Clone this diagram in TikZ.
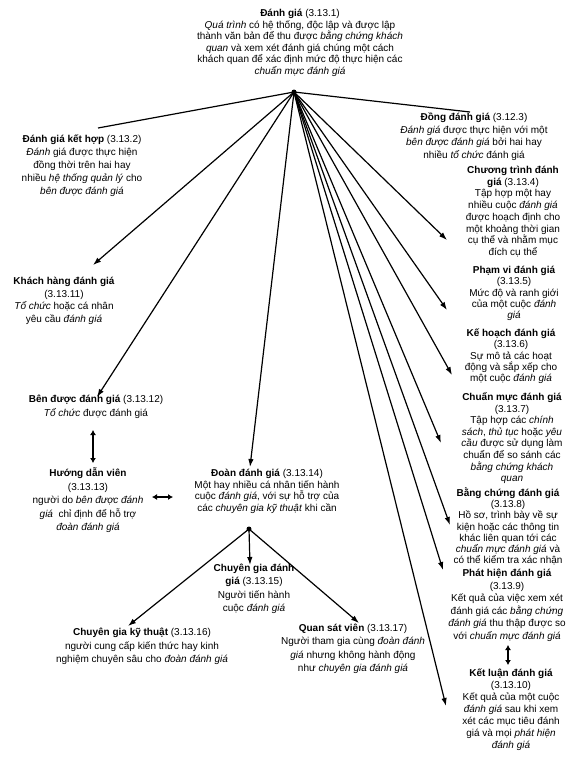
\documentclass[tikz,border=0pt]{standalone}
\usepackage{fontspec}
\setmainfont{Liberation Sans}
\usetikzlibrary{arrows.meta}
\begin{document}
\begin{tikzpicture}[x=1pt,y=-1pt,
  txt/.style={align=center, inner sep=0pt, anchor=base, font=\fontsize{10}{#1}\selectfont},
  txt/.default=12,
  conn/.style={line width=1.2pt, -{Latex[length=8pt,width=5.5pt]}},
  plainln/.style={line width=1.2pt},
  dbl/.style={line width=1.5pt, {Latex[length=5pt,width=6pt]}-{Latex[length=5pt,width=6pt]}}]
\useasboundingbox (0,0) rectangle (576,769);
\fill[white] (0,0) rectangle (576,769);

% text blocks (positioned at the baseline of their last line)
\node[txt=11.6] (dg) at (300,74.5) {\textbf{Đánh giá} (3.13.1)\\
\textit{Quá trình} có hệ thống, độc lập và được lập\\
thành văn bản để thu được \textit{bằng chứng khách}\\
\textit{quan} và xem xét đánh giá chúng một cách\\
khách quan để xác định mức độ thực hiện các\\
\textit{chuẩn mực đánh giá}};

\node[txt=13] (kh) at (82,194.5) {\textbf{Đánh giá kết hợp} (3.13.2)\\
\textit{Đánh} giá được thực hiện\\
đồng thời trên hai hay\\
nhiều \textit{hệ thống quản lý} cho\\
\textit{bên được đánh giá}};

\node[txt=12.7] (dong) at (474,158.6) {\textbf{Đồng đánh giá} (3.12.3)\\
\textit{Đánh giá} được thực hiện với một\\
\textit{bên được đánh giá} bởi hai hay\\
nhiều \textit{tổ chức} đánh giá};

\node[txt=11.7] (ct) at (513,255.4) {\textbf{Chương trình đánh}\\
\textbf{giá} (3.13.4)\\
Tập hợp một hay\\
nhiều cuộc \textit{đánh giá}\\
được hoạch định cho\\
một khoảng thời gian\\
cụ thể và nhằm mục\\
đích cụ thể};

\node[txt=11.3] (pv) at (514,318.7) {\textbf{Phạm vi đánh giá}\\
(3.13.5)\\
Mức độ và ranh giới\\
của một cuộc \textit{đánh}\\
\textit{giá}};

\node[txt=11.3] (khd) at (511,381.7) {\textbf{Kế hoạch đánh giá}\\
(3.13.6)\\
Sự mô tả các hoạt\\
động và sắp xếp cho\\
một cuộc \textit{đánh giá}};

\node[txt=11.6] (cm) at (512,481.7) {\textbf{Chuẩn mực đánh giá}\\
(3.13.7)\\
Tập hợp các \textit{chính}\\
\textit{sách}, \textit{thủ tục} hoặc \textit{yêu}\\
\textit{cầu} được sử dụng làm\\
chuẩn để so sánh các\\
\textit{bằng chứng khách}\\
\textit{quan}};

\node[txt=11.2] (bc) at (508,563.7) {\textbf{Bằng chứng đánh giá}\\
(3.13.8)\\
Hồ sơ, trình bày về sự\\
kiện hoặc các thông tin\\
khác liên quan tới các\\
\textit{chuẩn mực đánh giá} và\\
có thể kiểm tra xác nhận};

\node[txt=12.5] (ph) at (507,639) {\textbf{Phát hiện đánh giá}\\
(3.13.9)\\
Kết quả của việc xem xét\\
đánh giá các \textit{bằng chứng}\\
\textit{đánh giá} thu thập được so\\
với \textit{chuẩn mực đánh giá}};

\node[txt=12] (kl) at (511,748.5) {\textbf{Kết luận đánh giá}\\
(3.13.10)\\
Kết quả của một cuộc\\
\textit{đánh giá} sau khi xem\\
xét các mục tiêu đánh\\
giá và mọi \textit{phát hiện}\\
\textit{đánh giá}};

\node[txt=12.7] (khg) at (64,322.6) {\textbf{Khách hàng đánh giá}\\
(3.13.11)\\
\textit{Tổ chức} hoặc cá nhân\\
yêu cầu \textit{đánh giá}};

\node[txt=14] (bdg) at (96,416.5) {\textbf{Bên được đánh giá} (3.13.12)\\
\textit{Tổ chức} được đánh giá};

\node[txt=13.5] (hdv) at (88,530.5) {\textbf{Hướng dẫn viên}\\
(3.13.13)\\
người do \textit{bên được đánh}\\
\textit{giá}\ \ chỉ định để hỗ trợ\\
\textit{đoàn đánh giá}};

\node[txt=11.7] (doan) at (267,511.6) {\textbf{Đoàn đánh giá} (3.13.14)\\
Một hay nhiều cá nhân tiến hành\\
cuộc \textit{đánh giá}, với sự hỗ trợ của\\
các \textit{chuyên gia kỹ thuật} khi cần};

\node[txt=13.3] (cgdg) at (254,611.4) {\textbf{Chuyên gia đánh}\\
\textbf{giá} (3.13.15)\\
Người tiến hành\\
cuộc \textit{đánh giá}};

\node[txt=13.5] (cgkt) at (142,662.5) {\textbf{Chuyên gia kỹ thuật} (3.13.16)\\
người cung cấp kiến thức hay kinh\\
nghiệm chuyên sâu cho \textit{đoàn đánh giá}};

\node[txt=13.3] (qsv) at (353,671.4) {\textbf{Quan sát viên} (3.13.17)\\
Người tham gia cùng \textit{đoàn đánh}\\
\textit{giá} nhưng không hành động\\
như \textit{chuyên gia đánh giá}};

% hubs and connector ends
\coordinate (hub) at (294,92);
\coordinate (sub) at (249,529);
\coordinate (e-kh) at (98,128);
\coordinate (e-dong) at (470,112);
\coordinate (e-khg) at (93,265);
\coordinate (e-bdg) at (97,397);
\coordinate (e-doan) at (250,467);
\coordinate (e-ct) at (447,240);
\coordinate (e-pv) at (447,310);
\coordinate (e-khd) at (452,375);
\coordinate (e-cm) at (441,443);
\coordinate (e-bc) at (450,525);
\coordinate (e-ph) at (443,570);
\coordinate (e-kl) at (446,706);
\coordinate (e-cgdg) at (250,565);
\coordinate (e-cgkt) at (128,626);
\coordinate (e-qsv) at (359,623);

\draw[plainln] (hub) -- (e-kh);
\draw[plainln] (hub) -- (e-dong);
\foreach \t in {khg,bdg,doan,ct,pv,khd,cm,bc,ph,kl}
  \draw[conn] (hub) -- (e-\t);
\foreach \t in {cgdg,cgkt,qsv}
  \draw[conn] (sub) -- (e-\t);
\fill (hub) circle (2.5pt);
\fill (sub) circle (2.5pt);

% double arrows
\coordinate (d1a) at (93,430);
\coordinate (d1b) at (93,463);
\coordinate (d2a) at (152,497);
\coordinate (d2b) at (173,497);
\coordinate (d3a) at (508,645);
\coordinate (d3b) at (508,665);
\draw[dbl] (d1a) -- (d1b);
\draw[dbl] (d2a) -- (d2b);
\draw[dbl] (d3a) -- (d3b);
\end{tikzpicture}
\end{document}
